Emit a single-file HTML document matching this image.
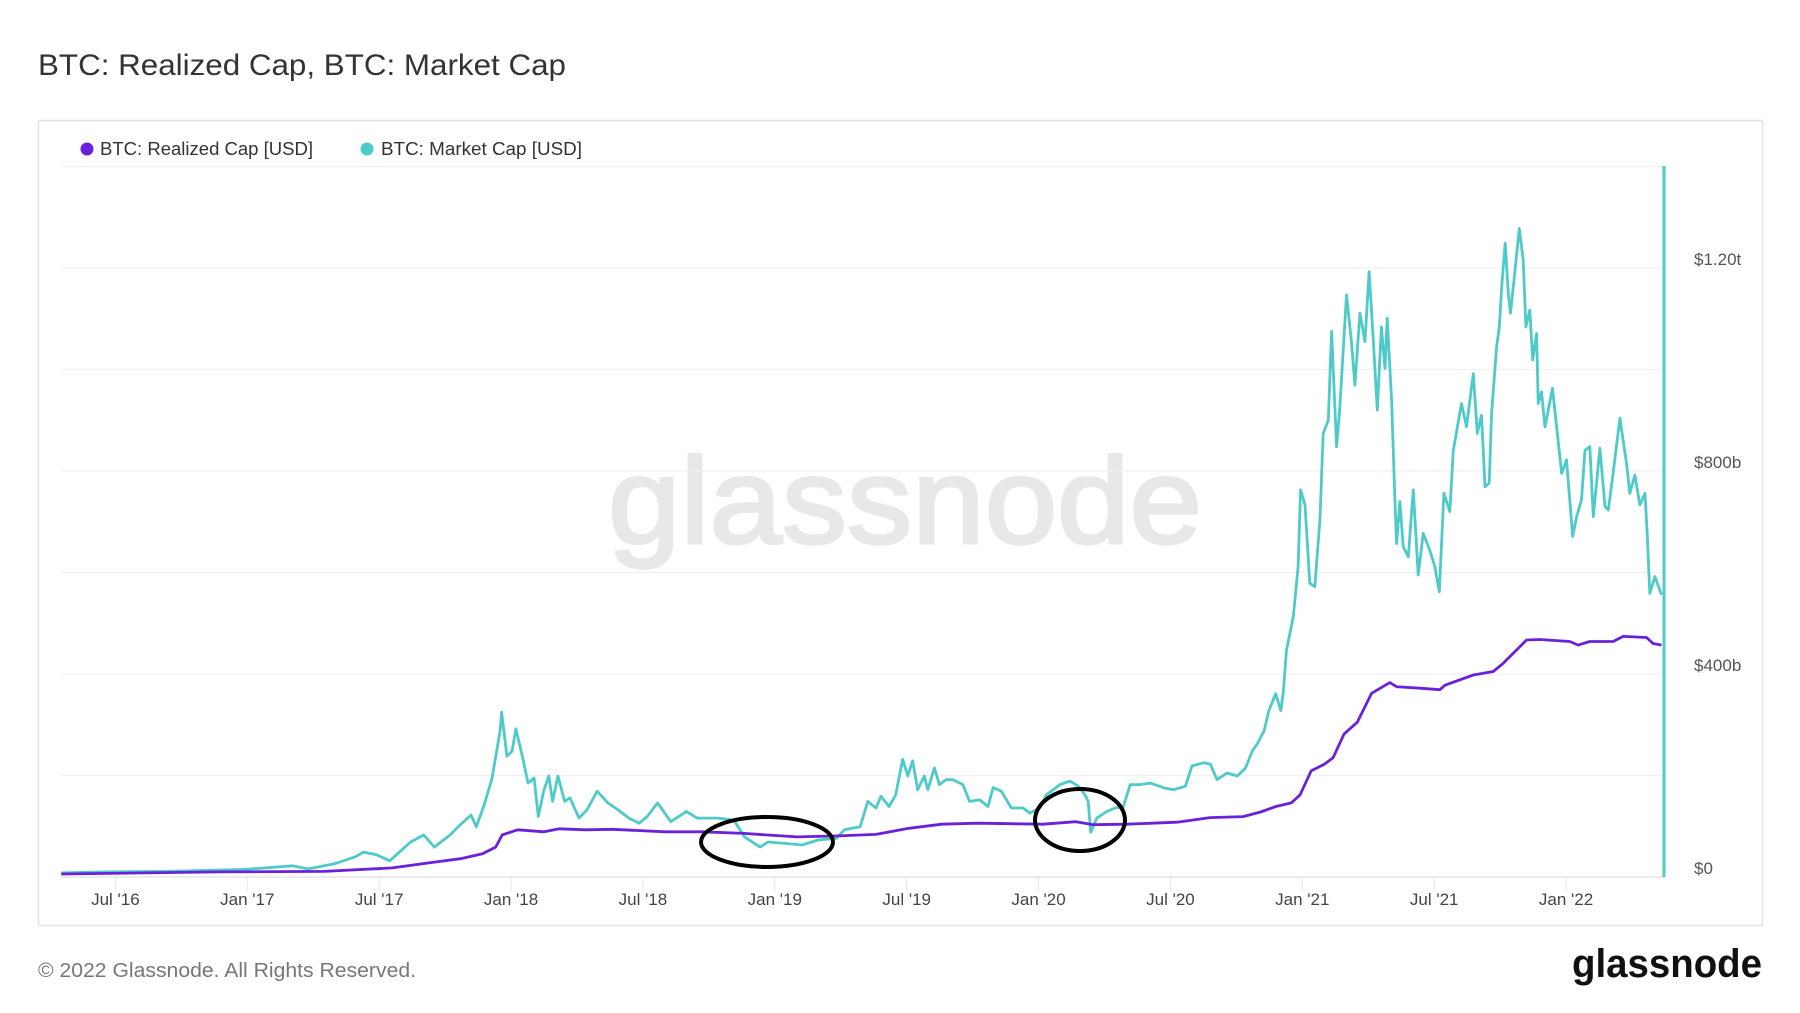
<!DOCTYPE html>
<html><head><meta charset="utf-8"><style>
html,body{margin:0;padding:0;background:#fff;}
svg{display:block;font-family:"Liberation Sans",sans-serif;}
</style></head><body>
<svg id="chart" width="1800" height="1013" viewBox="0 0 1800 1013" xmlns="http://www.w3.org/2000/svg">
<rect x="0" y="0" width="1800" height="1013" fill="#fff"/>
<text x="38" y="75" font-size="30" fill="#333" textLength="528" lengthAdjust="spacingAndGlyphs">BTC: Realized Cap, BTC: Market Cap</text>
<rect x="38.5" y="120.5" width="1724" height="805" fill="none" stroke="#e3e3e3" stroke-width="1.5"/>
<g>
<g><circle cx="87" cy="149" r="6.5" fill="#6b21d9"/><text x="100" y="155" font-size="18" fill="#333" textLength="213" lengthAdjust="spacingAndGlyphs">BTC: Realized Cap [USD]</text></g>
<g><circle cx="367" cy="149" r="6.5" fill="#4ecbc9"/><text x="381" y="155" font-size="18" fill="#333" textLength="201" lengthAdjust="spacingAndGlyphs">BTC: Market Cap [USD]</text></g>
</g>
<text x="608" y="543" font-size="122" fill="#e8e8e8" stroke="#e8e8e8" stroke-width="3" textLength="594" lengthAdjust="spacingAndGlyphs">glassnode</text>
<g id="grid"></g>
<g id="xaxis"></g>
<g id="yaxis"></g>
<g id="series"></g>
<ellipse cx="767" cy="842" rx="66" ry="25" fill="none" stroke="#000" stroke-width="4"/>
<ellipse cx="1080" cy="820" rx="45" ry="31" fill="none" stroke="#000" stroke-width="4"/>
<text x="38" y="977" font-size="20" fill="#777" textLength="378" lengthAdjust="spacingAndGlyphs">© 2022 Glassnode. All Rights Reserved.</text>
<text x="1572" y="977" font-size="40" font-weight="bold" fill="#111" textLength="190" lengthAdjust="spacingAndGlyphs">glassnode</text>
</svg>
<script>
// time in months since Jan 2016, values in billions USD
const yTicks = [0, 400, 800, 1200];
const yTickLabels = ["$0", "$400b", "$800b", "$1.20t"];
const xTicks = [6, 12, 18, 24, 30, 36, 42, 48, 54, 60, 66, 72];
const xTickLabels = ["Jul '16","Jan '17","Jul '17","Jan '18","Jul '18","Jan '19","Jul '19","Jan '20","Jul '20","Jan '21","Jul '21","Jan '22"];
const marketT = [3.54,5.45,8.3,11.9,14.05,14.77,15.97,16.93,17.28,17.88,18.48,18.84,19.43,20.03,20.51,21.23,21.59,22.18,22.42,22.78,23.14,23.5,23.57,23.81,24.05,24.22,24.53,24.77,25.05,25.24,25.48,25.72,25.89,26.13,26.44,26.68,27.09,27.45,27.92,28.4,28.88,29.36,29.83,30.19,30.67,31.27,31.98,32.46,33.42,34.14,34.62,35.33,35.69,36.53,37.25,37.96,38.8,39.16,39.88,40.23,40.6,40.83,41.2,41.5,41.82,42.05,42.27,42.5,42.8,42.96,43.26,43.49,43.8,44.1,44.56,44.86,45.32,45.7,45.93,46.31,46.76,47.3,47.6,48.06,48.36,48.97,49.43,49.81,50.11,50.26,50.37,50.65,51.1,51.48,51.86,52.17,52.62,53.08,53.69,54.15,54.68,54.98,55.52,55.82,56.12,56.58,57.04,57.42,57.72,57.95,58.26,58.48,58.79,59.02,59.13,59.28,59.59,59.81,59.92,60.12,60.34,60.57,60.8,60.95,61.18,61.33,61.56,61.71,62.01,62.24,62.39,62.62,62.85,63.04,63.23,63.41,63.6,63.76,63.86,64.06,64.21,64.29,64.44,64.59,64.82,65.05,65.27,65.5,65.8,66.03,66.23,66.44,66.71,66.87,67.24,67.47,67.78,67.96,68.15,68.31,68.5,68.61,68.84,68.96,69.07,69.23,69.37,69.47,69.67,69.87,70.05,70.17,70.35,70.48,70.66,70.73,70.88,71.04,71.38,71.57,71.8,72.02,72.3,72.48,72.7,72.86,73.08,73.24,73.54,73.77,73.92,74.14,74.45,74.75,74.9,75.13,75.36,75.59,75.69,75.81,76.04,76.34];
const marketV = [8,10,11,15,22,16,26,40,49,44,32,46,69,83,59,83,99,122,99,142,195,288,325,238,248,292,235,185,195,119,169,199,149,199,149,156,116,132,169,146,132,116,106,119,146,109,129,116,116,112,79,59,69,66,63,73,76,93,99,149,136,159,139,162,232,199,229,172,199,172,215,182,192,192,182,149,152,139,176,169,136,136,126,136,162,182,189,179,162,149,88,116,129,136,139,182,182,185,176,172,179,219,225,222,192,205,199,215,248,262,288,328,361,328,362,447,513,611,763,733,579,572,703,874,900,1075,848,927,1147,1052,969,1111,1055,1193,1058,920,1084,1002,1101,940,743,657,740,651,631,763,595,677,644,611,562,756,720,841,933,887,992,874,910,769,776,914,1045,1084,1163,1249,1150,1111,1193,1278,1216,1084,1117,1019,1071,933,956,887,963,887,795,822,671,710,743,841,848,710,845,730,723,795,904,815,756,792,733,756,677,559,592,556];
const realizedT = [3.54,10.7,15.5,18.6,20.3,21.7,22.7,23.3,23.6,24.3,25.5,26.2,27.4,28.6,31.0,32.7,34.6,37.0,38.9,40.6,42.1,43.6,45.2,46.7,48.2,49.7,50.5,52.0,54.3,55.8,57.3,58.1,58.8,59.5,59.9,60.4,61.0,61.4,61.9,62.5,63.15,63.98,64.29,65.35,66.26,66.49,67.78,68.69,69.14,69.9,70.2,70.81,72.17,72.55,73.08,74.14,74.6,75.66,75.96,76.34];
const realizedV = [6,10,11,18,28,36,46,59,83,93,89,95,93,94,89,89,86,79,81,84,96,104,106,105,104,109,103,104,108,117,119,128,139,146,162,209,222,235,282,305,362,383,375,372,369,378,398,405,421,454,467,468,464,457,464,464,474,472,460,457];

const NS = "http://www.w3.org/2000/svg";
const X0 = 115.4, PX_PER_MONTH = 21.98, PLOT_L = 61, PLOT_R = 1664, Y0 = 877, PX_PER_B = 0.5075;
function xs(t){ return X0 + (t - 6) * PX_PER_MONTH; }
function ys(v){ return Y0 - v * PX_PER_B; }
function mk(tag, attrs, parent){ const e = document.createElementNS(NS, tag); for (const k in attrs) e.setAttribute(k, attrs[k]); parent.appendChild(e); return e; }

const grid = document.getElementById('grid');
for (let v = 0; v <= 1400; v += 200) {
  const gl = mk('line', {x1: PLOT_L, x2: PLOT_R, y1: ys(v), y2: ys(v), stroke: v === 0 ? '#e0e0e0' : '#f0f0f0', 'stroke-width': 1.2}, grid);
  
  
}
const yaxis = document.getElementById('yaxis');
yTicks.forEach((v, i) => {
  const t = mk('text', {x: 1694, y: ys(v) - 3, 'font-size': 17, fill: '#555'}, yaxis);
  t.textContent = yTickLabels[i];
  
  
});
const xaxis = document.getElementById('xaxis');
xTicks.forEach((m, i) => {
  const tk = mk('line', {x1: xs(m), x2: xs(m), y1: Y0, y2: Y0 + 14, stroke: '#e6e6e6', 'stroke-width': 1}, xaxis);
  
  
  const t = mk('text', {x: xs(m), y: 905, 'font-size': 17, fill: '#444', 'text-anchor': 'middle'}, xaxis);
  t.textContent = xTickLabels[i];
  
  
});
const series = document.getElementById('series');
function pathD(T, V){ return T.map((t, i) => (i ? 'L' : 'M') + xs(t).toFixed(1) + ',' + ys(V[i]).toFixed(1)).join(''); }
const mp = mk('path', {d: pathD(marketT, marketV), fill: 'none', stroke: '#4ecbc9', 'stroke-width': 2.8, 'stroke-linejoin': 'round'}, series);


const rp = mk('path', {d: pathD(realizedT, realizedV), fill: 'none', stroke: '#6b21d9', 'stroke-width': 2.8, 'stroke-linejoin': 'round'}, series);


const cur = mk('line', {x1: PLOT_R, x2: PLOT_R, y1: 166, y2: Y0, stroke: '#4ecbc9', 'stroke-width': 3}, series);


</script>
</body></html>
